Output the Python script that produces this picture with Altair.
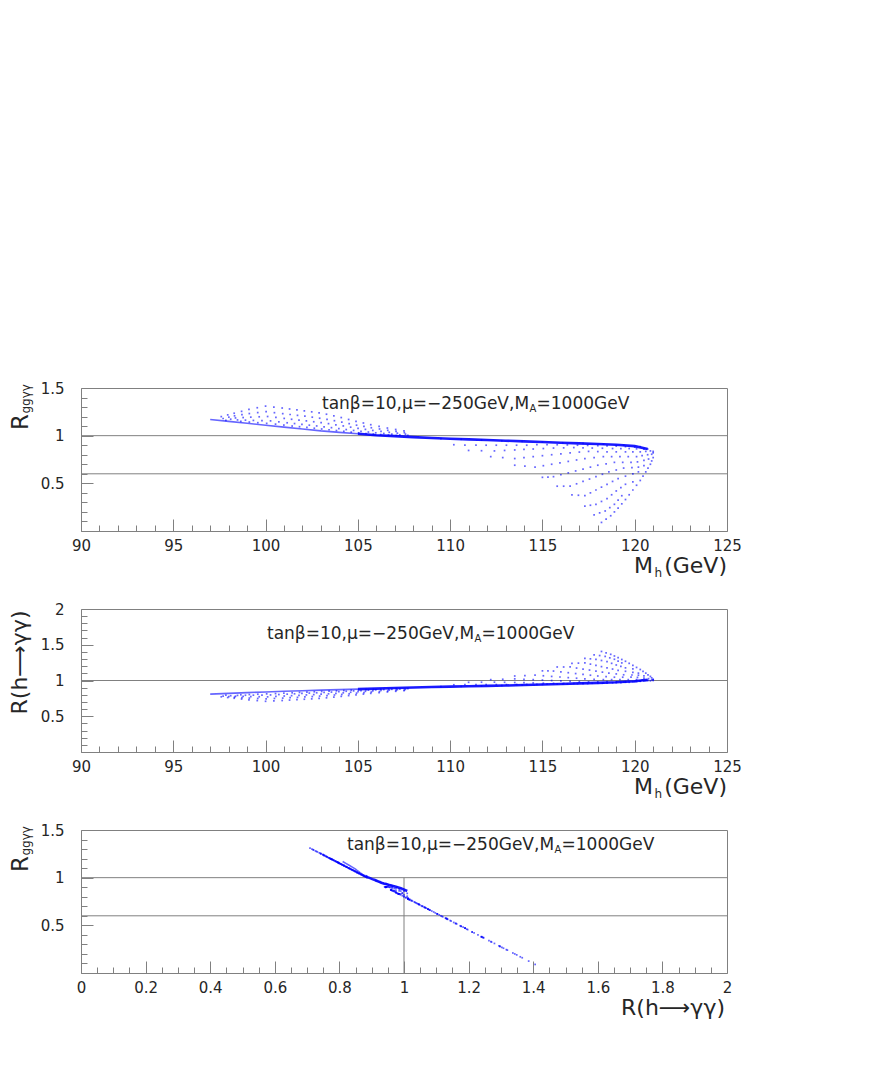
import altair as alt
import pandas as pd

# ---------------- data ----------------
# dense central band (M_h, R_gg->gamgam, R(h->gamgam))
BAND_MH = [97, 98, 99, 100, 101, 102, 103, 104, 105, 106, 107, 108, 109, 110,
           111, 112, 113, 114, 115, 116, 117, 118, 119, 120, 120.7]
BAND_RGG = [1.17, 1.15, 1.13, 1.11, 1.09, 1.07, 1.05, 1.035, 1.02, 1.005, 0.995,
            0.985, 0.975, 0.968, 0.961, 0.954, 0.947, 0.94, 0.933, 0.926, 0.919,
            0.912, 0.905, 0.89, 0.86]
BAND_RGAM = [0.81, 0.82, 0.83, 0.84, 0.85, 0.857, 0.865, 0.872, 0.88, 0.887, 0.895,
             0.902, 0.91, 0.915, 0.92, 0.925, 0.93, 0.937, 0.945, 0.952, 0.96,
             0.967, 0.975, 0.99, 1.01]

# fan of strands at large M_h (downward in R_gg, upward in R_gamgam)
FAN_MH = [
    [109.5, 110.2, 111.0, 112.2, 113.5, 115.0, 115.8, 116.6, 117.3, 117.8, 118.2],
    [110.8, 111.7, 112.85, 114.05, 115.3, 116.15, 116.95, 117.6, 118.1, 118.45],
    [110.6, 111.4, 112.4, 113.5, 114.6, 115.6, 116.5, 117.3, 117.9, 118.4, 118.7],
    [111.95, 112.95, 114.0, 115.05, 116.0, 116.85, 117.6, 118.2, 118.65, 118.9],
    [111.7, 112.5, 113.5, 114.5, 115.5, 116.4, 117.2, 117.9, 118.5, 118.9, 119.1],
    [113.05, 114.0, 115.0, 115.95, 116.8, 117.55, 118.2, 118.75, 119.1, 119.3],
    [112.8, 113.6, 114.5, 115.5, 116.4, 117.2, 117.9, 118.5, 119.0, 119.3, 119.5],
    [114.15, 115.05, 116.0, 116.85, 117.6, 118.25, 118.8, 119.25, 119.7],
    [113.9, 114.7, 115.6, 116.5, 117.3, 118.0, 118.6, 119.1, 119.5, 119.9],
    [115.25, 116.15, 117.0, 117.8, 118.45, 119.0, 119.5, 119.9, 120.1],
    [115.0, 115.8, 116.7, 117.5, 118.3, 118.9, 119.4, 119.9, 120.3],
    [116.35, 117.2, 118.0, 118.75, 119.35, 119.85, 120.2, 120.45],
    [116.1, 116.9, 117.7, 118.5, 119.2, 119.8, 120.2, 120.6],
    [117.45, 118.25, 119.0, 119.65, 120.15, 120.5, 120.72],
    [117.2, 118.0, 118.8, 119.5, 120.1, 120.5, 120.85],
    [118.5, 119.25, 119.9, 120.4, 120.75, 120.92],
    [118.3, 119.0, 119.7, 120.3, 120.7, 121.0],
    [119.5, 120.1, 120.6, 120.92],
    [119.4, 120.0, 120.5, 120.85, 121.0],
    [120.3, 120.7, 121.0],
]
FAN_RGG = [
    [0.97, 0.905, 0.845, 0.78, 0.69, 0.563, 0.47, 0.38, 0.26, 0.17, 0.09],
    [0.9, 0.842, 0.77, 0.68, 0.566, 0.47, 0.375, 0.27, 0.19, 0.125],
    [0.962, 0.9, 0.84, 0.76, 0.67, 0.57, 0.47, 0.37, 0.28, 0.21, 0.16],
    [0.9, 0.845, 0.77, 0.685, 0.59, 0.495, 0.40, 0.31, 0.245, 0.2],
    [0.954, 0.9, 0.85, 0.78, 0.7, 0.61, 0.52, 0.43, 0.34, 0.28, 0.24],
    [0.9, 0.855, 0.79, 0.715, 0.63, 0.545, 0.46, 0.38, 0.325, 0.285],
    [0.946, 0.9, 0.86, 0.8, 0.73, 0.65, 0.57, 0.49, 0.42, 0.37, 0.33],
    [0.9, 0.865, 0.81, 0.745, 0.67, 0.595, 0.52, 0.455, 0.38],
    [0.939, 0.905, 0.87, 0.82, 0.76, 0.69, 0.62, 0.55, 0.49, 0.43],
    [0.905, 0.872, 0.828, 0.77, 0.705, 0.64, 0.575, 0.515, 0.48],
    [0.933, 0.905, 0.875, 0.835, 0.78, 0.72, 0.66, 0.6, 0.53],
    [0.903, 0.872, 0.833, 0.78, 0.72, 0.665, 0.62, 0.575],
    [0.925, 0.9, 0.87, 0.83, 0.78, 0.72, 0.67, 0.62],
    [0.898, 0.868, 0.83, 0.78, 0.725, 0.685, 0.66],
    [0.918, 0.895, 0.865, 0.83, 0.78, 0.74, 0.7],
    [0.893, 0.865, 0.83, 0.79, 0.755, 0.735],
    [0.911, 0.89, 0.865, 0.83, 0.8, 0.77],
    [0.885, 0.862, 0.835, 0.805],
    [0.9, 0.88, 0.86, 0.84, 0.82],
    [0.885, 0.86, 0.835],
]
FAN_RGAM = [
    [0.913, 0.94, 0.975, 1.012, 1.063, 1.135, 1.189, 1.24, 1.308, 1.36, 1.406],
    [0.943, 0.976, 1.017, 1.069, 1.134, 1.189, 1.243, 1.303, 1.349, 1.386],
    [0.918, 0.943, 0.977, 1.023, 1.074, 1.132, 1.189, 1.246, 1.297, 1.337, 1.366],
    [0.943, 0.975, 1.017, 1.066, 1.12, 1.174, 1.229, 1.28, 1.317, 1.343],
    [0.924, 0.943, 0.972, 1.012, 1.057, 1.109, 1.16, 1.211, 1.263, 1.297, 1.32],
    [0.943, 0.969, 1.006, 1.049, 1.097, 1.146, 1.194, 1.24, 1.271, 1.294],
    [0.93, 0.945, 0.966, 1.0, 1.04, 1.086, 1.132, 1.177, 1.217, 1.246, 1.269],
    [0.945, 0.963, 0.995, 1.032, 1.074, 1.117, 1.16, 1.197, 1.24],
    [0.937, 0.945, 0.96, 0.989, 1.023, 1.063, 1.103, 1.143, 1.177, 1.211],
    [0.948, 0.959, 0.984, 1.017, 1.054, 1.092, 1.129, 1.163, 1.183],
    [0.945, 0.95, 0.96, 0.98, 1.012, 1.046, 1.08, 1.114, 1.154],
    [0.952, 0.96, 0.981, 1.012, 1.046, 1.077, 1.103, 1.129],
    [0.952, 0.955, 0.962, 0.983, 1.012, 1.046, 1.074, 1.103],
    [0.957, 0.962, 0.983, 1.012, 1.043, 1.066, 1.08],
    [0.96, 0.962, 0.968, 0.985, 1.012, 1.034, 1.057],
    [0.964, 0.97, 0.985, 1.006, 1.026, 1.037],
    [0.965, 0.97, 0.975, 0.99, 1.0, 1.017],
    [0.975, 0.985, 0.995, 1.01],
    [0.978, 0.985, 0.99, 0.995, 1.0],
    [0.99, 1.0, 1.01],
]

# hooks at small M_h (upward in R_gg, downward in R_gamgam)
HOOK_MH = [
    [97.6, 97.7, 97.85],
    [97.95, 98.01, 98.11],
    [98.3, 98.32, 98.37, 98.48, 98.66],
    [98.7, 98.72, 98.785, 98.91, 99.12],
    [99.1, 99.12, 99.2, 99.34, 99.58],
    [99.55, 99.575, 99.655, 99.805, 100.06],
    [100.0, 100.03, 100.11, 100.27, 100.54],
    [100.45, 100.48, 100.56, 100.72, 100.99],
    [100.9, 100.93, 101.01, 101.17, 101.44],
    [101.3, 101.33, 101.41, 101.57, 101.84],
    [101.7, 101.73, 101.81, 101.97, 102.24],
    [102.1, 102.13, 102.21, 102.37, 102.64],
    [102.5, 102.53, 102.61, 102.77, 103.04],
    [102.9, 102.93, 103.01, 103.17, 103.44],
    [103.3, 103.33, 103.41, 103.57, 103.84],
    [103.7, 103.73, 103.81, 103.97, 104.24],
    [104.1, 104.13, 104.21, 104.37, 104.64],
    [104.5, 104.53, 104.61, 104.77, 105.04],
    [104.9, 104.93, 105.01, 105.17, 105.44],
    [105.3, 105.33, 105.41, 105.57, 105.84],
    [105.7, 105.73, 105.81, 105.97, 106.24],
    [106.15, 106.175, 106.255, 106.405, 106.66],
    [106.6, 106.62, 106.7, 106.84, 107.08],
    [107.05, 107.07, 107.14, 107.275],
    [107.5, 107.52, 107.58, 107.71],
]
HOOK_RGG = [
    [1.2, 1.18, 1.16],
    [1.218, 1.194, 1.173],
    [1.235, 1.208, 1.186, 1.165, 1.15],
    [1.255, 1.22, 1.19, 1.163, 1.143],
    [1.275, 1.232, 1.194, 1.16, 1.136],
    [1.293, 1.242, 1.198, 1.158, 1.129],
    [1.31, 1.251, 1.201, 1.155, 1.121],
    [1.3, 1.241, 1.191, 1.145, 1.111],
    [1.29, 1.231, 1.181, 1.135, 1.101],
    [1.28, 1.222, 1.172, 1.127, 1.094],
    [1.27, 1.213, 1.163, 1.118, 1.086],
    [1.26, 1.204, 1.155, 1.11, 1.078],
    [1.25, 1.194, 1.146, 1.102, 1.07],
    [1.238, 1.183, 1.136, 1.093, 1.062],
    [1.225, 1.172, 1.126, 1.084, 1.054],
    [1.208, 1.157, 1.114, 1.074, 1.046],
    [1.19, 1.142, 1.102, 1.064, 1.037],
    [1.17, 1.126, 1.089, 1.055, 1.03],
    [1.15, 1.11, 1.076, 1.045, 1.022],
    [1.133, 1.097, 1.066, 1.038, 1.017],
    [1.115, 1.083, 1.055, 1.03, 1.012],
    [1.098, 1.07, 1.045, 1.023, 1.007],
    [1.08, 1.056, 1.035, 1.016, 1.002],
    [1.065, 1.044, 1.026, 1.009],
    [1.05, 1.032, 1.016, 1.002],
]
HOOK_RGAM = [
    [0.772, 0.783, 0.795],
    [0.762, 0.775, 0.787],
    [0.752, 0.767, 0.78, 0.792, 0.8],
    [0.741, 0.761, 0.778, 0.794, 0.804],
    [0.729, 0.754, 0.775, 0.795, 0.808],
    [0.719, 0.749, 0.773, 0.797, 0.813],
    [0.709, 0.743, 0.771, 0.798, 0.817],
    [0.715, 0.749, 0.777, 0.804, 0.823],
    [0.72, 0.754, 0.783, 0.809, 0.828],
    [0.726, 0.759, 0.788, 0.814, 0.833],
    [0.732, 0.764, 0.793, 0.819, 0.837],
    [0.738, 0.77, 0.798, 0.824, 0.842],
    [0.743, 0.775, 0.803, 0.828, 0.846],
    [0.751, 0.782, 0.809, 0.833, 0.851],
    [0.758, 0.788, 0.814, 0.838, 0.855],
    [0.768, 0.797, 0.821, 0.844, 0.86],
    [0.778, 0.805, 0.828, 0.85, 0.865],
    [0.789, 0.814, 0.836, 0.855, 0.869],
    [0.8, 0.823, 0.843, 0.86, 0.873],
    [0.81, 0.831, 0.849, 0.865, 0.876],
    [0.82, 0.839, 0.855, 0.869, 0.879],
    [0.83, 0.847, 0.861, 0.873, 0.882],
    [0.84, 0.854, 0.866, 0.877, 0.885],
    [0.849, 0.861, 0.872, 0.881],
    [0.857, 0.868, 0.877, 0.885],
]

# reference lines
HLINES_RGG = [1.0, 0.6]
HLINES_RGAM = [1.0]
VLINE_RGAM = [1.0]

# axes
MH_DOMAIN = [90, 125]
MH_LABELS = [90, 95, 100, 105, 110, 115, 120, 125]
MH_MINOR = [v for v in range(91, 125) if v % 5]
RGAMX_DOMAIN = [0, 2]
RGAMX_LABELS = [0, 0.2, 0.4, 0.6, 0.8, 1, 1.2, 1.4, 1.6, 1.8, 2]
RGAMX_MINOR = [round(0.05 * i, 2) for i in range(1, 40) if i % 4]
RGG_DOMAIN = [0, 1.5]
RGG_LABELS = [0.5, 1, 1.5]
RGG_MAJOR = [0, 0.5, 1, 1.5]
RGG_MINOR = [round(0.1 * i, 1) for i in range(1, 15) if i % 5]
RGAM_DOMAIN = [0, 2]
RGAM_LABELS = [0.5, 1, 1.5, 2]
RGAM_MAJOR = [0, 0.5, 1, 1.5, 2]
RGAM_MINOR = [round(0.1 * i, 1) for i in range(1, 20) if i % 5]

# ---------------- tables ----------------
rows = []
for ms, gs, cs in zip(FAN_MH + HOOK_MH, FAN_RGG + HOOK_RGG, FAN_RGAM + HOOK_RGAM):
    for m, g, c in zip(ms, gs, cs):
        rows.append({"mh": m, "rgg": g, "rgam": c})
pts = pd.DataFrame(rows)
band = pd.DataFrame({"mh": BAND_MH, "rgg": BAND_RGG, "rgam": BAND_RGAM})
dummy = pd.DataFrame({"d": [0]})

W, H = 646, 143
FONT = "DejaVu Sans"
BLUE = "#0000ff"
GRAY = "#808080"
TXT = "#262626"


def txt(text, x, y, size, align="left", angle=0):
    return alt.Chart(dummy).mark_text(
        text=text, font=FONT, fontSize=size, align=align,
        baseline="alphabetic", angle=angle, color=TXT
    ).encode(x=alt.value(x), y=alt.value(y))


def panel(xf, yf, xdom, ydom, xlab, xmin_ticks, ylab, ymaj, ymin_ticks,
          hlines, vline, texts):
    xs = alt.Scale(domain=xdom, nice=False, zero=False)
    ys = alt.Scale(domain=ydom, nice=False, zero=False)
    lab_x = alt.Axis(orient="bottom", values=xlab, format="~g", ticks=False,
                     domain=False, grid=False, labelFont=FONT, labelFontSize=15,
                     labelColor=TXT, labelPadding=7, labelFlush=False,
                     labelOverlap=False, title=None)
    lab_y = alt.Axis(orient="left", values=ylab, format="~g", ticks=False,
                     domain=False, grid=False, labelFont=FONT, labelFontSize=15,
                     labelColor=TXT, labelPadding=17, labelOverlap=False,
                     title=None)

    def tick_axes(vx, vy, size):
        ax = alt.Axis(orient="top", offset=-H, values=vx, tickSize=size,
                      tickColor=GRAY, labels=False, domain=False, grid=False,
                      title=None)
        ay = alt.Axis(orient="right", offset=-W, values=vy, tickSize=size,
                      tickColor=GRAY, labels=False, domain=False, grid=False,
                      title=None)
        return ax, ay

    mx, my = tick_axes(xlab, ymaj, 12)
    nx, ny = tick_axes(xmin_ticks, ymin_ticks, 6)

    layers = []
    layers.append(alt.Chart(pd.DataFrame({"v": hlines})).mark_rule(
        color=GRAY, strokeWidth=1).encode(
        y=alt.Y("v:Q", scale=ys, axis=None)))
    if vline:
        layers.append(alt.Chart(pd.DataFrame({"x": vline, "y0": [0], "y1": [1]})).mark_rule(
            color=GRAY, strokeWidth=1).encode(
            x=alt.X("x:Q", scale=xs, axis=None),
            y=alt.Y("y0:Q", scale=ys, axis=None), y2="y1:Q"))
    layers.append(alt.Chart(pts).mark_square(size=3, color=BLUE, opacity=0.6).encode(
        x=alt.X(f"{xf}:Q", scale=xs, axis=lab_x),
        y=alt.Y(f"{yf}:Q", scale=ys, axis=lab_y)))
    # thinner, lighter left part of the band, solid right part
    layers.append(alt.Chart(band).transform_filter(alt.datum.mh <= 105).mark_line(
        color=BLUE, strokeWidth=1.6, opacity=0.6).encode(
        x=alt.X(f"{xf}:Q", scale=xs, axis=None),
        y=alt.Y(f"{yf}:Q", scale=ys, axis=None),
        order="mh:Q"))
    layers.append(alt.Chart(band).transform_filter(alt.datum.mh >= 105).mark_line(
        color=BLUE, strokeWidth=2.6, opacity=0.9).encode(
        x=alt.X(f"{xf}:Q", scale=xs, axis=mx),
        y=alt.Y(f"{yf}:Q", scale=ys, axis=my),
        order="mh:Q"))
    layers.append(alt.Chart(band).mark_point(opacity=0).encode(
        x=alt.X(f"{xf}:Q", scale=xs, axis=nx),
        y=alt.Y(f"{yf}:Q", scale=ys, axis=ny)))
    layers.extend(texts)
    return alt.layer(*layers).resolve_axis(x="independent", y="independent").properties(
        width=W, height=H)


def annotation(x0, base):
    return [
        txt("tanβ=10,μ=−250GeV,M", x0, base, 17),
        txt("A", x0 + 207.5, base + 3, 10),
        txt("=1000GeV", x0 + 214.5, base, 17),
    ]


def rgg_title():
    return [txt("R", -53, 42, 23, angle=270), txt("ggγγ", -51, 25.5, 12, angle=270)]


def mh_title():
    return [txt("M", 572, H + 42, 22, align="right"),
            txt("h", 573.5, H + 46, 12),
            txt("(GeV)", 646, H + 42, 22, align="right")]


p1 = panel("mh", "rgg", MH_DOMAIN, RGG_DOMAIN, MH_LABELS, MH_MINOR,
           RGG_LABELS, RGG_MAJOR, RGG_MINOR, HLINES_RGG, None,
           annotation(241, 20.5) + rgg_title() + mh_title())
p2 = panel("mh", "rgam", MH_DOMAIN, RGAM_DOMAIN, MH_LABELS, MH_MINOR,
           RGAM_LABELS, RGAM_MAJOR, RGAM_MINOR, HLINES_RGAM, None,
           annotation(186, 29.5)
           + [txt("R(h⟶γγ)", -54, 1.5, 22, align="right", angle=270)]
           + mh_title())
p3 = panel("rgam", "rgg", RGAMX_DOMAIN, RGG_DOMAIN, RGAMX_LABELS, RGAMX_MINOR,
           RGG_LABELS, RGG_MAJOR, RGG_MINOR, HLINES_RGG, VLINE_RGAM,
           annotation(266, 20) + rgg_title()
           + [txt("R(h⟶γγ)", 644, H + 42, 22, align="right")])

chart = alt.vconcat(p1, p2, p3, spacing=21).properties(
    padding={"left": 0, "top": 372, "right": 5, "bottom": 5},
    background="white",
).configure_view(stroke=GRAY, strokeWidth=1)

chart.save("out.html", embed_options={"renderer": "svg", "actions": False})
